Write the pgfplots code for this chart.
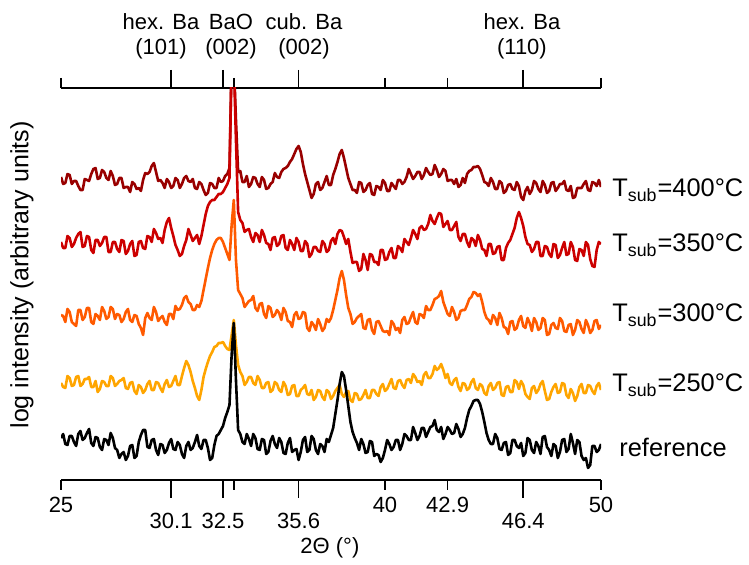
\documentclass[border=0pt]{standalone}
\usepackage{fontspec}
\setmainfont{Liberation Sans}
\usepackage{pgfplots}
\usepackage{pgfplotstable}
\pgfplotsset{compat=1.18}
\definecolor{c400}{RGB}{153,0,0}
\definecolor{c350}{RGB}{204,0,0}
\definecolor{c300}{RGB}{255,90,0}
\definecolor{c250}{RGB}{255,165,0}
\pgfplotstableread{
x ref t250 t300 t350 t400
25.0 42 97 165 238 303
25.1 46 93 164 232 296
25.2 36 92 158 232 297
25.3 35 104 171 244 306
25.4 44 102 168 242 305
25.5 44 94 158 233 296
25.6 38 95 156 236 299
25.7 34 103 154 242 299
25.8 46 104 170 246 294
25.9 49 94 170 248 290
26.0 40 96 160 233 290
26.1 42 101 163 234 301
26.2 47 101 172 244 300
26.3 51 103 172 243 299
26.4 37 93 158 230 306
26.5 34 93 156 227 311
26.6 43 99 166 240 312
26.7 42 88 164 240 301
26.8 33 91 160 234 302
26.9 30 99 173 237 310
27.0 41 98 169 243 308
27.1 40 94 161 243 302
27.2 35 94 163 228 300
27.3 47 104 173 228 309
27.4 42 102 171 238 304
27.5 32 94 161 238 295
27.6 30 96 166 231 296
27.7 22 99 165 228 302
27.8 26 100 158 240 302
27.9 28 102 161 239 292
28.0 20 92 168 226 293
28.1 24 91 171 229 293
28.2 34 97 160 236 288
28.3 35 98 158 239 298
28.4 22 89 165 224 296
28.5 24 86 164 225 291
28.6 38 95 156 238 292
28.7 45 93 152 239 289
28.8 50 87 145 232 300
28.9 50 90 162 231 307
29.0 33 96 167 244 306
29.1 32 99 162 243 308
29.2 40 90 160 238 314
29.3 41 90 173 251 317
29.4 30 98 168 247 308
29.5 25 97 159 241 299
29.6 36 92 162 242 300
29.7 35 88 164 237 297
29.8 27 96 158 250 292
29.9 30 100 155 258 301
30.0 37 93 166 262 298
30.1 41 94 166 252 292
30.2 31 99 161 244 294
30.3 30 104 174 235 302
30.4 38 95 170 230 300
30.5 35 95 171 224 292
30.6 26 104 175 226 296
30.7 22 112 182 234 302
30.8 34 119 184 240 304
30.9 38 115 178 251 299
31.0 30 108 176 245 298
31.1 32 99 170 239 301
31.2 38 92 170 242 292
31.3 45 84 175 245 291
31.4 34 80 173 236 298
31.5 31 90 179 244 296
31.6 40 103 190 255 290
31.7 40 111 201 266 285
31.8 32 118 212 274 287
31.9 20 124 222 278 297
32.0 22 128 230 280 296
32.1 35 133 236 280 292
32.2 44 134 240 283 292
32.3 46 137 242 286 302
32.4 50 137 242 286 298
32.5 54 138 238 288 299
32.6 62 134 232 292 304
32.7 68 131 226 296 306
32.8 75 130 220 302 312
32.9 125 145 255 420 420
33.0 157 160 280 420 420
33.1 100 135 220 340 360
33.2 50 115 190 268 308
33.3 46 108 186 260 309
33.4 38 104 182 257 298
33.5 36 95 173 248 298
33.6 46 98 176 250 304
33.7 41 103 179 251 293
33.8 34 103 180 243 296
33.9 46 97 184 238 303
34.0 42 95 172 247 302
34.1 31 104 169 245 296
34.2 30 100 176 238 293
34.3 41 92 177 250 303
34.4 40 92 166 245 300
34.5 26 97 162 237 291
34.6 28 98 174 236 292
34.7 39 88 172 230 296
34.8 44 90 163 242 298
34.9 36 98 165 243 307
35.0 32 96 170 234 303
35.1 42 90 167 236 302
35.2 38 88 160 244 308
35.3 27 98 172 245 311
35.4 26 94 168 232 312
35.5 37 85 159 230 314
35.6 42 86 158 240 318
35.7 28 94 153 236 321
35.8 30 95 165 230 326
35.9 31 84 168 242 331
36.0 20 84 161 238 334
36.1 28 90 162 229 328
36.2 40 92 168 229 316
36.3 43 95 167 239 306
36.4 28 86 152 236 298
36.5 30 85 149 223 290
36.6 44 90 158 226 282
36.7 41 80 155 233 286
36.8 30 83 150 233 296
36.9 26 90 161 229 298
37.0 36 89 156 228 290
37.1 34 83 149 239 292
37.2 28 80 152 236 298
37.3 41 90 161 228 304
37.4 38 88 158 230 295
37.5 45 81 162 239 295
37.6 52 84 170 242 305
37.7 66 89 180 236 311
37.8 80 92 190 246 318
37.9 96 95 202 250 326
38.0 108 86 209 249 330
38.1 104 83 200 243 322
38.2 90 88 185 236 312
38.3 74 89 172 241 302
38.4 58 80 166 228 296
38.5 48 78 156 217 290
38.6 42 87 158 218 290
38.7 37 86 162 218 287
38.8 30 80 164 209 298
38.9 41 81 166 211 297
39.0 36 85 152 226 288
39.1 27 90 151 220 290
39.2 28 82 160 210 295
39.3 39 82 161 226 297
39.4 38 90 150 225 286
39.5 24 90 146 218 285
39.6 26 86 158 218 294
39.7 25 84 159 215 293
39.8 18 93 154 230 290
39.9 22 96 149 230 300
40.0 30 89 148 220 297
40.1 40 91 149 221 289
40.2 36 96 145 228 289
40.3 30 101 159 232 297
40.4 33 92 156 222 294
40.5 40 91 150 222 291
40.6 40 99 152 234 300
40.7 30 100 147 232 300
40.8 36 95 160 228 296
40.9 46 92 163 241 298
41.0 44 100 156 238 303
41.1 40 101 157 235 311
41.2 40 97 163 242 306
41.3 53 106 168 250 301
41.4 47 103 158 246 304
41.5 40 98 156 241 308
41.6 44 99 166 252 308
41.7 52 95 165 254 301
41.8 52 105 162 250 305
41.9 43 108 174 251 312
42.0 48 102 170 256 308
42.1 53 102 170 265 305
42.2 54 106 175 259 306
42.3 60 114 181 256 315
42.4 50 110 182 262 310
42.5 48 112 184 267 303
42.6 53 116 189 266 306
42.7 41 110 178 253 311
42.8 46 102 172 256 309
42.9 53 106 166 259 299
43.0 50 97 164 250 300
43.1 46 95 173 250 300
43.2 47 100 168 254 296
43.3 56 102 160 258 301
43.4 51 93 162 243 293
43.5 43 89 169 239 295
43.6 46 97 170 246 302
43.7 52 96 170 246 297
43.8 62 90 175 238 306
43.9 70 92 181 233 309
44.0 74 98 183 242 310
44.1 79 101 188 240 313
44.2 80 92 187 234 313
44.3 80 90 184 245 314
44.4 76 96 186 240 311
44.5 68 94 178 231 305
44.6 58 87 168 230 298
44.7 47 85 162 224 297
44.8 40 94 160 236 294
44.9 36 97 156 236 302
45.0 36 90 165 226 298
45.1 46 92 162 227 291
45.2 42 97 155 233 291
45.3 31 98 167 234 299
45.4 30 85 162 220 297
45.5 37 84 153 220 287
45.6 38 93 152 232 289
45.7 25 94 146 237 295
45.8 27 88 158 240 296
45.9 40 88 159 246 291
46.0 40 100 150 252 290
46.1 34 98 152 262 298
46.2 32 91 160 268 294
46.3 37 99 164 262 283
46.4 24 95 154 254 280
46.5 27 86 152 243 289
46.6 42 83 162 236 293
46.7 40 81 157 235 286
46.8 30 92 149 228 290
46.9 27 94 162 231 299
47.0 38 87 158 238 297
47.1 34 90 150 238 291
47.2 26 96 152 224 288
47.3 43 99 162 224 299
47.4 44 89 160 234 295
47.5 33 80 145 233 287
47.6 30 81 146 226 289
47.7 24 88 155 223 297
47.8 36 93 157 236 298
47.9 34 96 152 235 289
48.0 22 87 151 222 292
48.1 28 88 162 225 296
48.2 40 97 159 232 296
48.3 41 96 149 238 299
48.4 28 85 148 225 290
48.5 31 82 155 226 289
48.6 46 91 156 238 294
48.7 37 87 145 233 282
48.8 26 79 150 220 283
48.9 40 84 160 219 292
49.0 38 93 158 231 292
49.1 24 96 151 230 292
49.2 20 87 147 224 296
49.3 22 87 160 238 299
49.4 12 95 155 235 290
49.5 15 94 147 221 289
49.6 34 89 150 214 298
49.7 34 86 159 213 297
49.8 28 94 160 230 294
49.9 30 97 151 238 300
50.0 36 90 155 236 293
}\xrd
\begin{document}
\begin{tikzpicture}
\begin{axis}[
  name=ax, at={(0,0)}, anchor=south west,
  scale only axis, width=270pt, height=196pt,
  xmin=25, xmax=50, ymin=0, ymax=392,
  clip mode=individual,
  separate axis lines,
  y axis line style={draw=none},
  x axis line style={line width=0.8pt},
  ytick=\empty,
  tick align=outside,
  xtick={25,33,40,42.9,50},
  xticklabels={25,,40,42.9,50},
  major tick length=5pt,
  extra x ticks={30.1,32.5,36,46.4},
  extra x tick labels={30.1,32.5,35.6,46.4},
  extra x tick style={major tick length=9pt, xticklabel style={yshift=-4pt}},
  tick style={black, line width=0.8pt},
  ticklabel style={font=\fontsize{11}{13}\selectfont},
  /pgf/number format/assume math mode=true,
  every axis plot/.append style={line width=1.3pt, line join=round, no markers},
]
\addplot[c400] table[x=x, y=t400] {\xrd};
\addplot[c350] table[x=x, y=t350] {\xrd};
\addplot[c300] table[x=x, y=t300] {\xrd};
\addplot[c250] table[x=x, y=t250] {\xrd};
\addplot[black] table[x=x, y=ref] {\xrd};

\begin{scope}[every node/.style={font=\fontsize{11}{13}\selectfont, anchor=base, inner sep=0pt}]
\node at (axis cs:29.63,450) {hex. Ba};
\node at (axis cs:29.63,425) {(101)};
\node at (axis cs:32.87,450) {BaO};
\node at (axis cs:32.87,425) {(002)};
\node at (axis cs:36.25,450) {cub. Ba};
\node at (axis cs:36.25,425) {(002)};
\node at (axis cs:46.34,450) {hex. Ba};
\node at (axis cs:46.34,425) {(110)};
\end{scope}

\begin{scope}[every node/.style={font=\fontsize{12.7}{15}\selectfont, anchor=base west, inner sep=0pt}]
\node[xshift=5.5pt] at (axis cs:50,283) {T\textsubscript{sub}=400°C};
\node[xshift=5.5pt] at (axis cs:50,228) {T\textsubscript{sub}=350°C};
\node[xshift=5.5pt] at (axis cs:50,158) {T\textsubscript{sub}=300°C};
\node[xshift=5.5pt] at (axis cs:50,88) {T\textsubscript{sub}=250°C};
\node[xshift=9pt] at (axis cs:50,23) {reference};
\end{scope}

\node[font=\fontsize{12.5}{15}\selectfont, rotate=90, anchor=center, inner sep=0pt] at (axis cs:23.19,205) {log intensity (arbitrary units)};
\node[font=\fontsize{11}{13}\selectfont, anchor=center, inner sep=0pt] at (axis cs:37.45,-68) {2Θ (°)};
\end{axis}
\pgfresetboundingbox
\path (-30.5pt,-42.5pt) rectangle (344pt,240pt);
\end{tikzpicture}
\end{document}
